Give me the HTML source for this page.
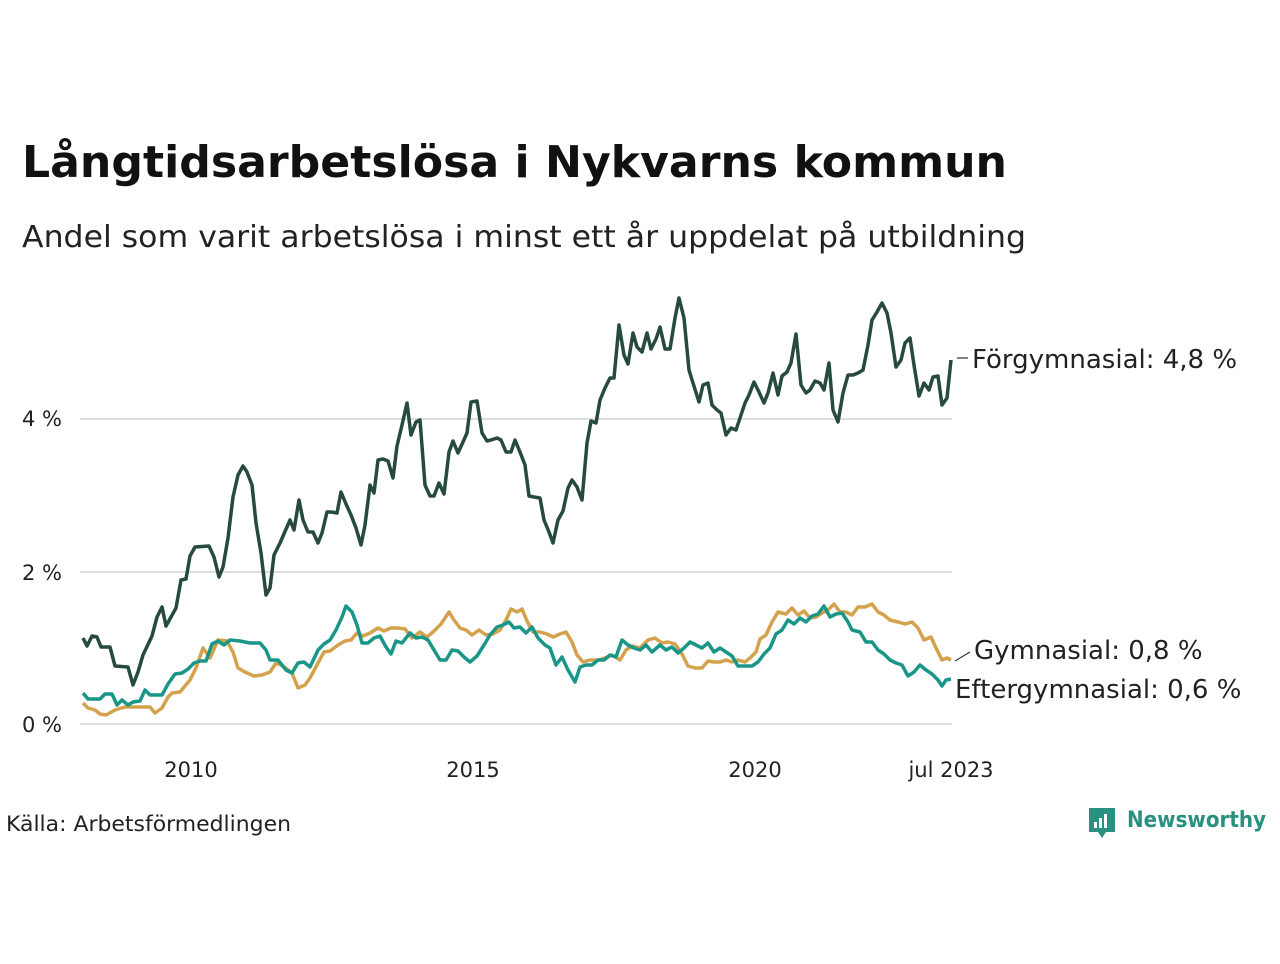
<!DOCTYPE html>
<html><head><meta charset="utf-8"><style>
body{margin:0;background:#fff;width:1280px;height:960px;overflow:hidden;font-family:"DejaVu Sans","Liberation Sans",sans-serif;}
</style></head><body>
<svg width="1280" height="960" xmlns="http://www.w3.org/2000/svg" font-family="DejaVu Sans, Liberation Sans, sans-serif">
<text x="22" y="177" font-size="44" font-weight="bold" fill="#111" textLength="985" lengthAdjust="spacingAndGlyphs">Långtidsarbetslösa i Nykvarns kommun</text>
<text x="22" y="247" font-size="30" fill="#222" textLength="1004" lengthAdjust="spacingAndGlyphs">Andel som varit arbetslösa i minst ett år uppdelat på utbildning</text>
<g stroke="#ddd" stroke-width="2">
<line x1="80" x2="952" y1="419" y2="419"/><line x1="80" x2="952" y1="572" y2="572"/><line x1="80" x2="952" y1="724" y2="724"/>
</g>
<g font-size="21" fill="#222">
<text x="22" y="426">4 %</text><text x="22" y="580">2 %</text><text x="22" y="732">0 %</text>
<text x="191" y="777" text-anchor="middle">2010</text><text x="473" y="777" text-anchor="middle">2015</text><text x="755" y="777" text-anchor="middle">2020</text><text x="951" y="777" text-anchor="middle">jul 2023</text>
</g>
<g fill="none" stroke-width="3.5" stroke-linejoin="round">
<polyline stroke="#d4a24c" points="83,703 88,708 95,710 100,714 106,715 115,710 125,707 140,707 150,707 155,713 162,708 168,697 172,693 180,692 190,680 196,668 203,648 210,658 218,640 227,641 233,652 238,668 245,672 254,676 262,675 270,672 276,663 283,666 292,673 298,688 305,685 310,678 318,663 324,652 330,651 338,645 345,641 351,640 357,633 363,636 370,633 378,628 384,631 391,628 398,628 405,629 412,638 420,632 427,637 433,632 441,624 449,612 454,620 460,628 466,630 472,635 479,630 486,635 493,634 500,630 506,620 511,609 517,612 522,609 527,621 533,632 540,632 547,634 553,637 560,634 566,632 572,642 577,655 583,662 590,660 598,660 605,658 612,655 620,660 626,650 632,646 640,648 648,640 655,638 662,643 668,642 675,644 682,654 688,666 695,668 702,668 708,661 714,662 720,662 726,660 732,662 738,660 745,662 750,658 756,652 760,639 766,635 772,622 778,612 786,614 792,608 798,615 804,611 810,618 816,617 822,613 828,610 834,604 840,612 846,612 852,615 858,607 865,607 872,604 878,612 884,615 890,620 898,622 905,624 912,622 918,628 924,640 931,637 936,648 942,660 947,658 951,660"/>
<polyline stroke="#1a9688" points="83,693 88,699 95,699 100,699 105,694 112,694 117,705 122,700 128,705 133,702 140,701 145,690 150,695 162,695 168,684 175,674 182,673 188,669 194,663 200,661 206,661 212,644 218,641 224,645 230,640 240,641 250,643 260,643 266,650 270,660 278,660 286,670 292,673 298,663 304,662 310,667 318,650 324,644 330,640 336,630 342,617 346,606 352,612 357,625 362,643 368,643 374,638 380,636 386,647 391,654 396,641 402,643 410,633 416,638 422,637 428,640 434,650 440,660 446,660 452,650 458,651 464,657 470,662 477,656 484,645 490,635 497,627 503,625 509,622 514,628 520,627 526,633 532,627 538,638 545,645 550,648 556,665 562,657 568,670 575,682 580,667 586,665 592,665 598,660 604,660 610,655 616,657 622,640 628,645 634,648 640,650 646,645 652,652 660,645 666,650 672,647 678,653 684,648 690,642 696,645 702,648 708,643 714,652 720,648 726,652 732,656 738,666 745,666 752,666 758,662 764,654 770,648 776,634 782,630 788,620 794,624 800,618 806,622 812,616 818,614 824,606 830,617 836,614 842,613 848,622 852,630 860,632 866,642 872,642 878,650 884,654 890,660 896,663 902,665 908,676 914,672 920,665 926,670 932,674 938,680 942,686 946,680 951,679"/>
<polyline stroke="#264a40" points="83,638 87,646 92,636 97,637 101,647 110,647 115,666 128,667 133,685 138,672 143,655 152,636 157,617 162,607 166,626 176,608 181,580 186,579 190,556 195,547 209,546 214,557 219,577 223,567 228,538 233,497 238,475 243,466 247,472 252,485 256,523 261,553 266,595 270,588 274,555 280,543 290,520 294,530 299,500 303,520 308,532 313,532 318,543 322,533 327,512 331,512 337,513 341,492 346,504 351,515 356,528 361,545 365,525 370,485 374,493 378,460 383,459 388,461 393,478 397,446 402,425 407,403 411,435 416,422 420,420 425,485 430,496 434,496 439,483 444,494 449,452 453,441 458,453 463,442 467,433 471,402 477,401 482,433 487,441 491,440 497,438 501,440 506,452 511,452 515,440 520,452 525,465 529,496 534,497 540,498 544,520 549,532 553,543 558,520 563,511 568,488 572,480 577,487 582,500 587,443 591,421 596,423 600,400 605,388 610,378 614,378 619,325 624,355 628,364 633,333 637,347 642,352 647,333 651,349 656,339 660,327 665,349 670,349 675,318 679,298 684,318 689,370 693,383 699,402 703,385 708,383 712,405 717,410 721,413 726,435 731,428 736,430 740,418 745,403 749,395 754,382 759,392 764,403 768,393 773,373 778,395 782,376 787,372 791,363 796,334 801,385 806,393 810,390 815,381 820,383 824,390 829,363 833,410 838,422 843,393 848,375 853,375 858,373 863,370 868,345 872,320 877,312 882,303 887,313 891,333 896,367 901,360 905,343 910,338 914,365 919,396 924,383 929,390 933,377 938,376 942,405 947,398 951,360"/>
</g>
<g stroke="#333" stroke-width="1.2"><line x1="957" y1="358" x2="968" y2="358"/><line x1="955" y1="661" x2="970" y2="652"/></g>
<g font-size="26" fill="#222">
<text x="972" y="368">Förgymnasial: 4,8 %</text>
<text x="974" y="659">Gymnasial: 0,8 %</text>
<text x="955" y="698">Eftergymnasial: 0,6 %</text>
</g>
<text x="6" y="831" font-size="21" fill="#222" textLength="285" lengthAdjust="spacingAndGlyphs">Källa: Arbetsförmedlingen</text>
<g>
<path d="M1089 808 h26 v24 h-9 l-4 6 l-4 -6 h-9 z" fill="#2a9080"/>
<rect x="1094" y="822" width="3" height="6" fill="#fff"/><rect x="1099" y="818" width="3" height="10" fill="#fff"/><rect x="1104" y="814" width="3" height="14" fill="#fff"/>
<text x="1127" y="827" font-size="22" font-weight="bold" fill="#2a9080" textLength="139" lengthAdjust="spacingAndGlyphs">Newsworthy</text>
</g>
</svg>
</body></html>
